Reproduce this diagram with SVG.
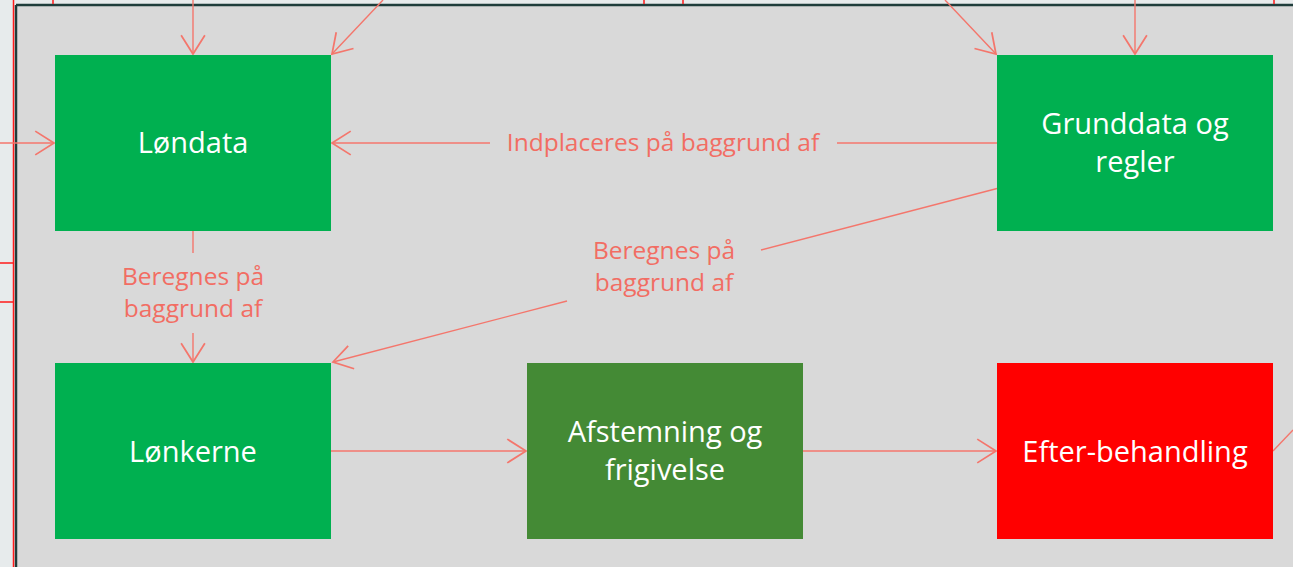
<svg xmlns="http://www.w3.org/2000/svg" width="1293" height="567" viewBox="0 0 1293 567">
<defs>
<marker id="arr" markerUnits="userSpaceOnUse" markerWidth="30" markerHeight="30" viewBox="-16 -12 20 24" refX="0" refY="0" orient="auto">
<path d="M-15,-9.5 L0,0 L-15,9.5" fill="none" stroke="#f4766c" stroke-width="1.4"/>
</marker>
<style>
.box{stroke:none}
.nt{font-family:"Open Sans","Liberation Sans",sans-serif;font-size:29px;fill:#ffffff;text-anchor:middle}
.lbl{font-family:"Open Sans","Liberation Sans",sans-serif;font-size:24.5px;fill:#f26d63;text-anchor:middle}
.c{stroke:#f4766c;stroke-width:1.4;fill:none}
.tick{stroke:#ff1a1a;stroke-width:1.5}
</style>
</defs>
<rect x="0" y="0" width="1293" height="567" fill="#e7ebec"/>
<rect x="16" y="5" width="1277" height="562" fill="#d9d9d9"/>
<line x1="16" y1="5" x2="1293" y2="5" stroke="#1f3d3b" stroke-width="2.5"/>
<line x1="16" y1="5" x2="16" y2="567" stroke="#1f3d3b" stroke-width="2.5"/>
<g id="ticks">
<line class="tick" x1="13.5" y1="0" x2="13.5" y2="567"/>
<line class="tick" x1="53" y1="0" x2="53" y2="4"/>
<line class="tick" x1="644" y1="0" x2="644" y2="4"/>
<line class="tick" x1="683" y1="0" x2="683" y2="4"/>
<line class="tick" x1="1274" y1="0" x2="1274" y2="4"/>
<line class="tick" x1="0" y1="263" x2="13" y2="263"/>
<line class="tick" x1="0" y1="302" x2="13" y2="302"/>
</g>
<g id="connectors">
<line class="c" x1="193" y1="0" x2="193" y2="54" marker-end="url(#arr)"/>
<line class="c" x1="383" y1="0" x2="332" y2="54" marker-end="url(#arr)"/>
<line class="c" x1="0" y1="143" x2="54" y2="143" marker-end="url(#arr)"/>
<line class="c" x1="945" y1="0" x2="996" y2="54" marker-end="url(#arr)"/>
<line class="c" x1="1135" y1="0" x2="1135" y2="54" marker-end="url(#arr)"/>
<line class="c" x1="997" y1="143" x2="837" y2="143"/>
<line class="c" x1="490" y1="143" x2="332" y2="143" marker-end="url(#arr)"/>
<text class="lbl" x="663" y="151">Indplaceres på baggrund af</text>
<line class="c" x1="193" y1="231" x2="193" y2="253"/>
<line class="c" x1="193" y1="333" x2="193" y2="362" marker-end="url(#arr)"/>
<text class="lbl" x="193" y="285">Beregnes på</text>
<text class="lbl" x="193" y="317">baggrund af</text>
<line class="c" x1="999" y1="188" x2="761" y2="250"/>
<line class="c" x1="567" y1="301" x2="333" y2="362" marker-end="url(#arr)"/>
<text class="lbl" x="664" y="259">Beregnes på</text>
<text class="lbl" x="664" y="291">baggrund af</text>
<line class="c" x1="331" y1="451" x2="526" y2="451" marker-end="url(#arr)"/>
<line class="c" x1="803" y1="451" x2="996" y2="451" marker-end="url(#arr)"/>
<line class="c" x1="1273" y1="451" x2="1293" y2="430"/>
</g>
<g id="n-londata">
<rect class="box" x="55" y="55" width="276" height="176" fill="#00b050"/>
<text class="nt" x="193" y="153">Løndata</text>
</g>
<g id="n-grunddata">
<rect class="box" x="997" y="55" width="276" height="176" fill="#00b050"/>
<text class="nt" x="1135" y="134">Grunddata og</text>
<text class="nt" x="1135" y="172">regler</text>
</g>
<g id="n-lonkerne">
<rect class="box" x="55" y="363" width="276" height="176" fill="#00b050"/>
<text class="nt" x="193" y="462">Lønkerne</text>
</g>
<g id="n-afstemning">
<rect class="box" x="527" y="363" width="276" height="176" fill="#448a35"/>
<text class="nt" x="665" y="442">Afstemning og</text>
<text class="nt" x="665" y="480">frigivelse</text>
</g>
<g id="n-efter">
<rect class="box" x="997" y="363" width="276" height="176" fill="#ff0000"/>
<text class="nt" x="1135" y="462">Efter-behandling</text>
</g>
</svg>
